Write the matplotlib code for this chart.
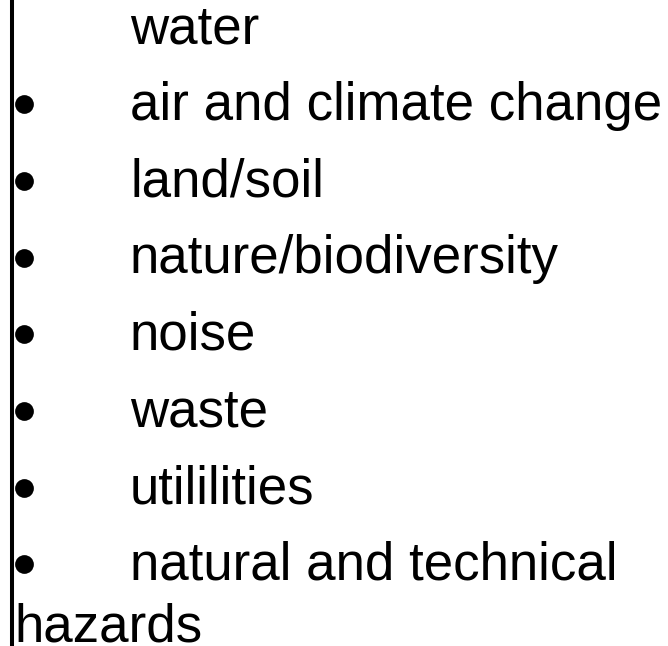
import matplotlib
matplotlib.use('Agg')
from matplotlib import pyplot as plt

# text lines of the slide, in order; the last item wraps onto a second line
lines = ['water', 'air and climate change', 'land/soil', 'nature/biodiversity',
         'noise', 'waste', 'utililities', 'natural and technical', 'hazards']
has_bullet = [False, True, True, True, True, True, True, True, False]
is_wrap = [False, False, False, False, False, False, False, False, True]

W, H = 668, 646
fig = plt.figure(figsize=(W/100, H/100), dpi=100)
ax = fig.add_axes([0, 0, 1, 1])
ax.set_xlim(0, W)
ax.set_ylim(H, 0)
ax.axis('off')

font = 'Liberation Sans'
fs = 38.1
base = 43       # baseline of first line, px
gap = 76.7      # spacing between items
wrap_gap = 62   # spacing for a wrapped line

# vertical rule at the left
ax.plot([11.5, 11.5], [0, H], color='black', lw=2.9, solid_capstyle='butt')

y = base
for i, (txt, b, w) in enumerate(zip(lines, has_bullet, is_wrap)):
    if i > 0:
        y += wrap_gap if w else gap
    if b:
        ax.plot(23.5, y - 15.5, 'o', color='black', ms=13.5, mew=0)
    x = 14 if w else 130
    ax.text(x, y, txt, fontsize=fs, family=font, ha='left', va='baseline')

fig.savefig('out.png', dpi=100)
